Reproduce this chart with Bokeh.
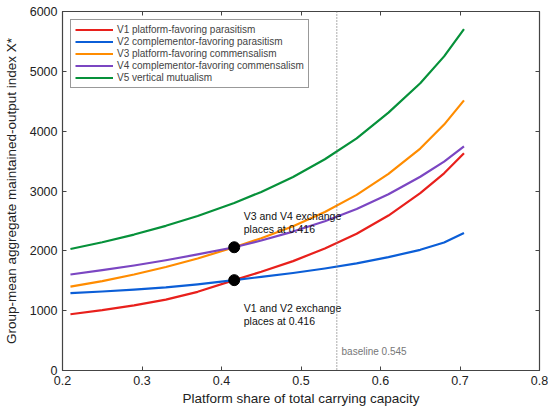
from bokeh.plotting import figure
from bokeh.models import Range1d, LinearAxis, Legend, LegendItem, Span, FixedTicker
from bokeh.core.properties import value
from bokeh.embed import file_html
from bokeh.resources import INLINE

share = [0.21, 0.25, 0.29, 0.33, 0.37, 0.416, 0.45, 0.49, 0.53, 0.57, 0.61, 0.65, 0.68, 0.705]
v1 = [940, 1008, 1088, 1185, 1315, 1510, 1650, 1828, 2040, 2285, 2590, 2965, 3295, 3632]
v2 = [1292, 1320, 1352, 1390, 1440, 1510, 1565, 1630, 1705, 1790, 1895, 2017, 2139, 2297]
v3 = [1403, 1495, 1605, 1730, 1872, 2060, 2210, 2410, 2650, 2935, 3285, 3710, 4110, 4514]
v4 = [1604, 1677, 1755, 1843, 1940, 2060, 2172, 2322, 2495, 2700, 2945, 3238, 3490, 3744]
v5 = [2030, 2144, 2272, 2418, 2582, 2800, 2985, 3235, 3530, 3880, 4310, 4800, 5250, 5704]

names = ["V1 platform-favoring parasitism",
         "V2 complementor-favoring parasitism",
         "V3 platform-favoring commensalism",
         "V4 complementor-favoring commensalism",
         "V5 vertical mutualism"]
colors = ["#e8201c", "#0b5ed7", "#ff8c00", "#7b46c2", "#06913a"]

cross_x = [0.416, 0.416]
cross_y = [1510, 2060]
baseline = 0.545

x_ticks = [0.2, 0.3, 0.4, 0.5, 0.6, 0.7, 0.8]
y_ticks = [0, 1000, 2000, 3000, 4000, 5000, 6000]

FONT = "Liberation Sans"

p = figure(width=548, height=411, output_backend="svg", toolbar_location=None,
           x_range=Range1d(0.2, 0.8), y_range=Range1d(0, 6000),
           min_border_left=61, min_border_right=9, min_border_top=11, min_border_bottom=41)
p.grid.visible = False
p.outline_line_color = "#444444"
p.outline_line_width = 1.2
p.background_fill_color = "white"
p.border_fill_color = "white"

for ax in [p.xaxis[0], p.yaxis[0]]:
    ax.major_tick_in = 4
    ax.major_tick_out = 0
    ax.minor_tick_in = 0
    ax.minor_tick_out = 0
    ax.axis_line_color = "#444444"
    ax.major_tick_line_color = "#444444"
    ax.major_label_text_font = FONT
    ax.major_label_text_font_size = "12.5px"
    ax.major_label_text_color = "#222222"
    ax.axis_label_text_font = FONT
    ax.axis_label_text_font_size = "13.5px"
    ax.axis_label_text_font_style = "normal"
    ax.axis_label_text_color = "#222222"

p.xaxis[0].ticker = FixedTicker(ticks=x_ticks)
p.yaxis[0].ticker = FixedTicker(ticks=y_ticks)
p.xaxis[0].axis_label = "Platform share of total carrying capacity"
p.yaxis[0].axis_label = "Group-mean aggregate maintained-output index X*"
p.xaxis[0].axis_label_standoff = 3
p.yaxis[0].axis_label_standoff = 8
p.xaxis[0].major_label_standoff = 5
p.yaxis[0].major_label_standoff = 5

top = LinearAxis(ticker=FixedTicker(ticks=x_ticks),
                 major_label_overrides={t: "" for t in x_ticks},
                 major_tick_in=4, major_tick_out=0, minor_tick_in=0, minor_tick_out=0,
                 axis_line_color="#444444", major_tick_line_color="#444444",
                 major_label_standoff=0)
right = LinearAxis(ticker=FixedTicker(ticks=y_ticks),
                   major_label_overrides={t: "" for t in y_ticks},
                   major_tick_in=4, major_tick_out=0, minor_tick_in=0, minor_tick_out=0,
                   axis_line_color="#444444", major_tick_line_color="#444444",
                   major_label_standoff=0)
p.add_layout(top, "above")
p.add_layout(right, "right")

vline = Span(location=baseline, dimension="height", line_color="#777777",
             line_dash="1 2", line_width=1.2)
p.add_layout(vline)

items = []
for ys, nm, c in zip([v1, v2, v3, v4, v5], names, colors):
    r = p.line(share, ys, line_color=c, line_width=2.2, line_join="round")
    items.append(LegendItem(label=nm, renderers=[r]))

p.scatter(cross_x, cross_y, size=11, fill_color="black", line_color="black")

p.text(x=[0.428, 0.428], y=[2586, 2366],
       text=["V3 and V4 exchange", "places at 0.416"],
       text_font=value(FONT), text_font_size="10.5px", text_color="#111111",
       text_baseline="middle", text_align="left")
p.text(x=[0.428, 0.428], y=[1041, 821],
       text=["V1 and V2 exchange", "places at 0.416"],
       text_font=value(FONT), text_font_size="10.5px", text_color="#111111",
       text_baseline="middle", text_align="left")
p.text(x=[0.551], y=[315], text=["baseline 0.545"],
       text_font=value(FONT), text_font_size="10px", text_color="#777777",
       text_baseline="middle", text_align="left")

legend = Legend(items=items, location="top_left")
legend.label_text_font = FONT
legend.label_text_font_size = "10px"
legend.label_height = 11
legend.glyph_height = 11
legend.glyph_width = 38
legend.spacing = 1
legend.padding = 4
legend.margin = 8
legend.label_standoff = 4
legend.border_line_color = "#333333"
legend.border_line_width = 1
legend.background_fill_alpha = 1
p.add_layout(legend, "center")

open("out.html", "w").write(file_html(p, INLINE))
